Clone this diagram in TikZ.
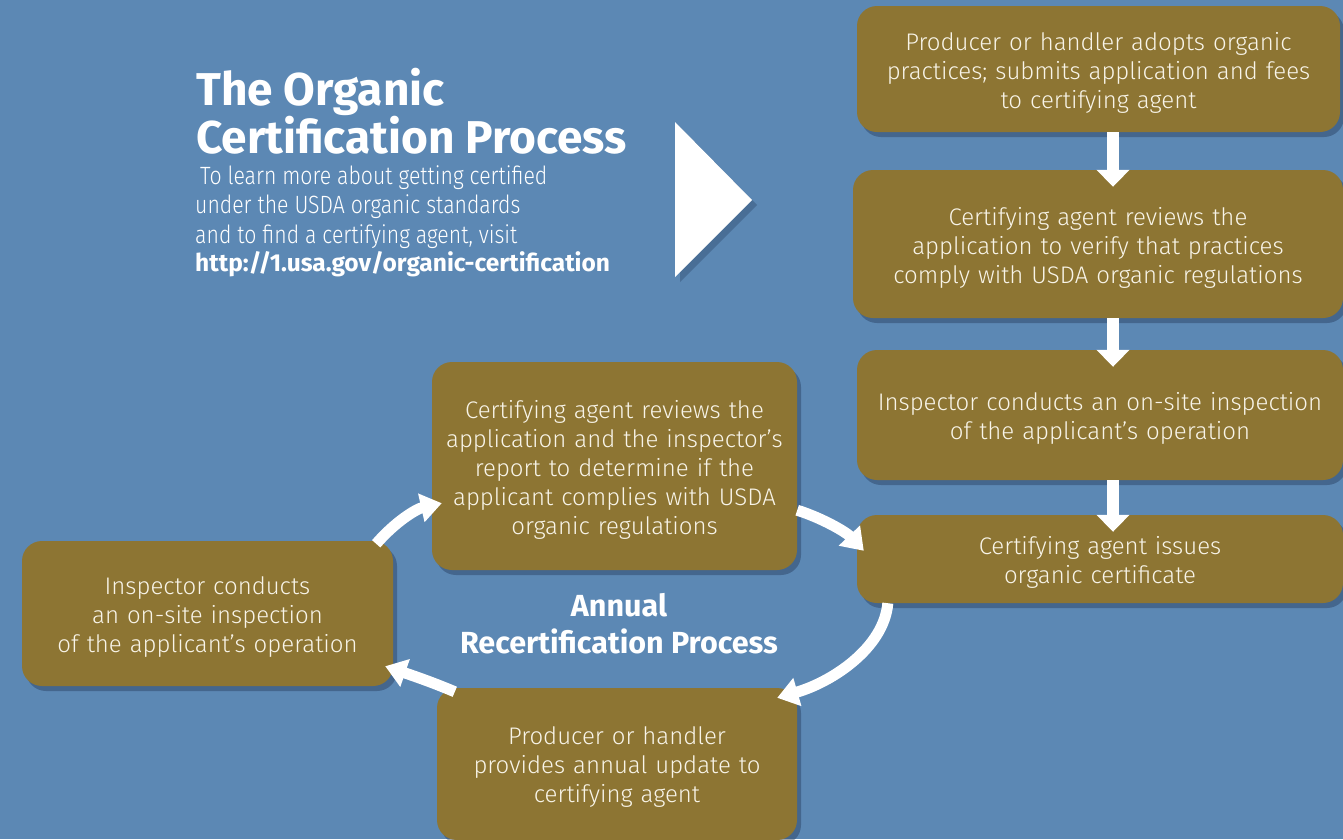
\documentclass[tikz,border=0pt]{standalone}
\usepackage{fontspec}
\setmainfont{Fira Sans}[UprightFont={* Light}, BoldFont={* SemiBold}]
\newfontfamily\condfont{Fira Sans}[UprightFont={* Light}, BoldFont={* Bold}, FakeStretch=0.85]
\newfontfamily\heavyfont{Fira Sans}[UprightFont={* Bold}]
\usetikzlibrary{shadows,arrows.meta,calc}
\definecolor{bgblue}{RGB}{92,136,180}
\definecolor{boxbrown}{RGB}{141,117,51}
\definecolor{boxtext}{RGB}{248,244,232}
\definecolor{shadowblue}{RGB}{40,62,95}
\newcommand\boxfont{\fontsize{24}{29}\selectfont}
\newcommand\subfont{\condfont\fontsize{25}{29.5}\selectfont}
\newcommand\urlfont{\heavyfont\fontsize{24.5}{29.5}\selectfont}
\newcommand\ttlfont{\heavyfont\fontsize{46}{48}\selectfont}
\newcommand\annfont{\heavyfont\fontsize{30.5}{37}\selectfont}
\tikzset{
  box/.style={fill=boxbrown, rounded corners=20pt, text=boxtext, align=center,
    inner sep=0pt, font=\boxfont,
    execute at end node={\par\vspace*{-7pt}},
    drop shadow={shadow xshift=4pt, shadow yshift=-5pt, opacity=0.45, fill=shadowblue}},
  flow/.style={draw=white, line width=12pt, -{Triangle[width=32pt,length=17pt]}},
  cyc/.style={draw=white, line width=11pt, -{Triangle[width=28pt,length=21pt]}},
  ttl/.style={text=white, anchor=base west, inner sep=0pt, font=\ttlfont},
  sub/.style={text=white, anchor=base west, inner sep=0pt, font=\subfont},
}
\begin{document}
\begin{tikzpicture}[x=1pt,y=-1pt]
\fill[bgblue] (0,0) rectangle (1343,839);
\useasboundingbox (0,0) rectangle (1343,839);

% title block
\node[ttl] (t1) at (196,105) {The Organic};
\node[ttl] (t2) at (196,153) {Certification Process};
\node[sub] (s1) at (200,184) {To learn more about getting certified};
\node[sub] (s2) at (195,213) {under the USDA organic standards};
\node[sub] (s3) at (195,243) {and to find a certifying agent, visit};
\node[sub, font=\urlfont] (s4) at (195,271) {http://1.usa.gov/organic-certification};

% big pointer triangle
\fill[white, drop shadow={shadow xshift=5pt, shadow yshift=-5pt, opacity=0.35, fill=shadowblue}]
  (675,122) -- (752,200) -- (675,277) -- cycle;

% right column
\node[box, minimum width=483pt, minimum height=126pt, text width=470pt] (b1) at (1098.5,69)
  {Producer or handler adopts organic\\practices; submits application and fees\\to certifying agent};
\node[box, minimum width=490pt, minimum height=148pt, text width=470pt] (b2) at (1098,244)
  {Certifying agent reviews the\\application to verify that practices\\comply with USDA organic regulations};
\node[box, minimum width=486pt, minimum height=130pt, text width=470pt] (b3) at (1100,415)
  {Inspector conducts an on-site inspection\\of the applicant's operation};
\node[box, minimum width=486pt, minimum height=88pt, text width=470pt] (b4) at (1100,559)
  {Certifying agent issues\\organic certificate};

% cycle boxes
\node[box, minimum width=365pt, minimum height=208pt, text width=350pt] (A) at (614.5,466)
  {Certifying agent reviews the\\application and the inspector's\\report to determine if the\\applicant complies with USDA\\organic regulations};
\node[box, minimum width=371pt, minimum height=145pt, text width=360pt] (B) at (207.5,613.5)
  {Inspector conducts\\an on-site inspection\\of the applicant's operation};
\node[box, minimum width=360pt, minimum height=152pt, text width=350pt] (C) at (617,764)
  {Producer or handler\\provides annual update to\\certifying agent};

\node[text=white, align=center, inner sep=0pt, font=\annfont] (ann) at (619,624)
  {Annual\\Recertification Process};

% vertical arrows
\coordinate (ax) at (1113,0);
\draw[flow] (b1.south -| ax) -- ($(b2.north -| ax)+(0,17)$);
\draw[flow] (b2.south -| ax) -- ($(b3.north -| ax)+(0,17)$);
\draw[flow] (b3.south -| ax) -- ($(b4.north -| ax)+(0,17)$);

% cycle arrows
\coordinate (ba0) at ($(B.north east)+(-17,3)$);
\coordinate (ba1) at ($(A.south west)+(10,-67)$);
\draw[cyc] (ba0) .. controls (395,522) and (416,509) .. (ba1);
\coordinate (a40) at ($(A.south east)+(0,-60)$);
\coordinate (a41) at ($(b4.north west)+(7,36)$);
\draw[cyc] (a40) .. controls (822,518) and (846,532) .. (a41);
\coordinate (c40) at ($(b4.south west)+(31,0)$);
\coordinate (c41) at ($(C.north east)+(-20,10)$);
\draw[cyc] (c40) .. controls (884,648) and (832,682) .. (c41);
\coordinate (cb0) at ($(C.north west)+(18,4)$);
\coordinate (cb1) at ($(B.south east)+(-8,-20)$);
\draw[cyc] (cb0) .. controls (432,682) and (408,674) .. (cb1);
\end{tikzpicture}
\end{document}
